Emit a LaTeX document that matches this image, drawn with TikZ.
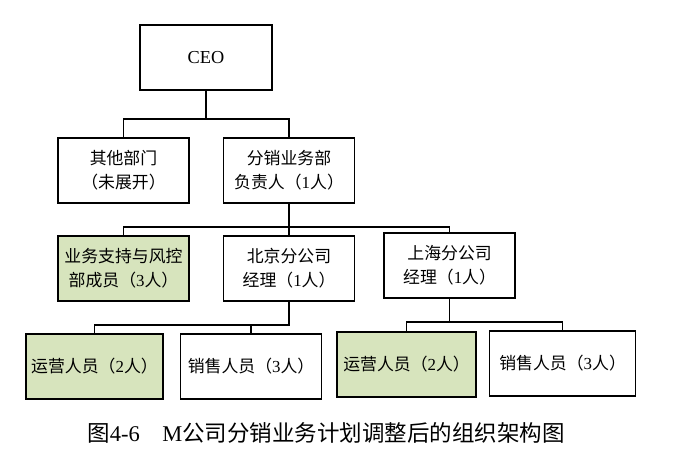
\documentclass[tikz,border=0pt]{standalone}
\usepackage{fontspec}
\setmainfont{Liberation Serif}
\newfontfamily\cjk{Noto Sans CJK SC}
\newcommand{\lat}[1]{{\rmfamily #1}}
\usetikzlibrary{positioning}
\definecolor{mgreen}{RGB}{215,228,189}

\begin{document}
\begin{tikzpicture}[line width=1.1pt,
        box/.style={draw,minimum width=3.275cm,minimum height=1.625cm,align=center,inner sep=1pt,font=\cjk\fontsize{12}{17}\selectfont},
        staff/.style={box,minimum width=3.45cm},
        shaded/.style={fill=mgreen}]
        \useasboundingbox (0,0) rectangle (17.45,-11.5);
        % top levels
        \node[box,minimum width=3.3cm,font=\fontsize{13}{16}\selectfont] (ceo) at (5.15,-1.4375) {CEO};
        \node[box] (other) at (3.0875,-4.2625) {其他部门\\（未展开）};
        \node[box,right=0.825cm of other] (fx) {分销业务部\\负责人（\lat{1}人）};
        \node[box,shaded] (support) at (3.0875,-6.7125) {业务支持与风控\\部成员（\lat{3}人）};
        \node[box,right=0.825cm of support] (bj) {北京分公司\\经理（\lat{1}人）};
        \node[box,right=0.7cm of bj,yshift=0.075cm] (sh) {上海分公司\\经理（\lat{1}人）};
        % staff
        \node[staff,shaded,minimum width=3.425cm] (ops1) at (2.3625,-9.1625) {运营人员（\lat{2}人）};
        \node[staff,minimum width=3.525cm,right=0.4cm of ops1] (sales1) {销售人员（\lat{3}人）};
        \node[staff,shaded,minimum width=3.475cm,right=0.35cm of sales1,yshift=0.05cm] (ops2) {运营人员（\lat{2}人）};
        \node[staff,minimum width=3.65cm,right=0.3cm of ops2,yshift=0.025cm] (sales2) {销售人员（\lat{3}人）};
        % connectors
        \draw (ceo.south) -- ++(0,-0.7) -| (other.north);
        \draw (ceo.south) -- ++(0,-0.7) -| (fx.north);
        \draw (fx.south) -- ++(0,-0.575) -| (support.north);
        \draw (fx.south) -- (bj.north);
        \draw (fx.south) -- ++(0,-0.575) -| (sh.north);
        \draw (bj.south) -- ++(0,-0.575) -| (ops1.north);
        \draw (bj.south) -- ++(0,-0.575) -| (sales1.north);
        \draw (sh.south) -- ++(0,-0.575) -| (ops2.north);
        \draw (sh.south) -- ++(0,-0.575) -| (sales2.north);
        \node[font=\cjk\fontsize{16}{18}\selectfont] (caption) at (8.15,-10.83) {图\lat{4-6}\quad\lat{M}公司分销业务计划调整后的组织架构图};
    \end{tikzpicture}
\end{document}
